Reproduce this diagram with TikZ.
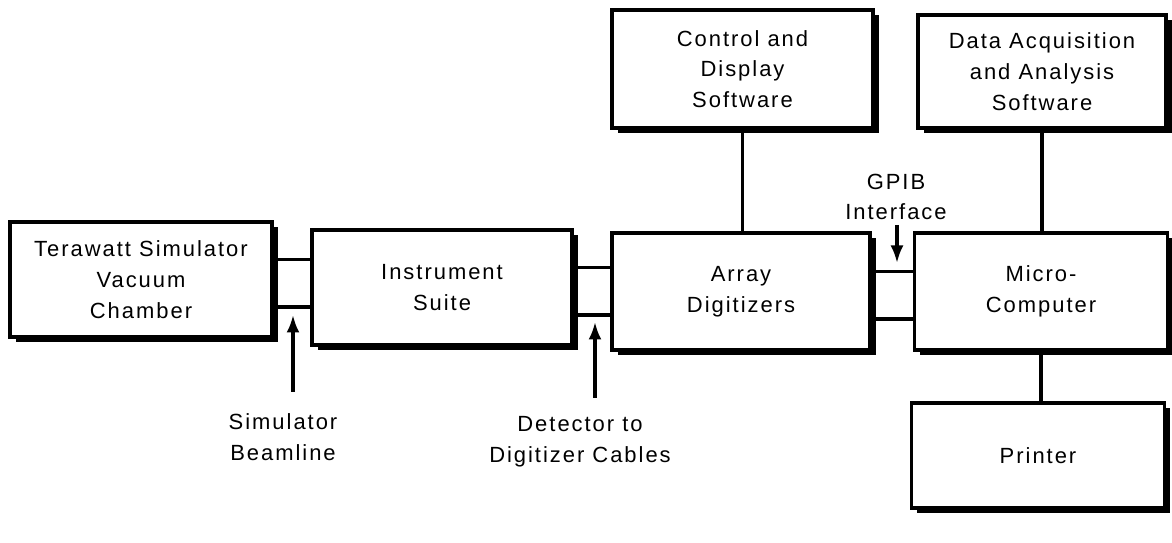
\documentclass[tikz,border=0pt]{standalone}
\usepackage{fontspec}
\setmainfont[LetterSpace=9]{Liberation Sans}
\usetikzlibrary{arrows.meta,positioning,shadows}
\tikzset{
  unit/.style={rectangle, draw=black, line width=2pt, fill=white, align=center,
               font=\fontsize{12.5}{17.5}\selectfont,
               drop shadow={shadow xshift=0.11cm, shadow yshift=-0.11cm, fill=black, opacity=1}},
  cable/.style={line width=1.8pt},
  ar/.style={-{Latex[length=3.5mm, width=2.6mm]}, line width=1.8pt},
  lbl/.style={align=center, font=\fontsize{12.5}{17.5}\selectfont},
}

\begin{document}
\begin{tikzpicture}[x=1cm,y=1cm]

\useasboundingbox (0,0) rectangle (23.44,10.86);

% ---- main chain ----
\node[unit, minimum width=5.24cm, minimum height=2.30cm] (term) at (2.82,5.27)
  {Terawatt Simulator\\Vacuum\\Chamber};
\node[unit, minimum width=5.20cm, minimum height=2.30cm] (inst) at (8.84,5.11)
  {Instrument\\Suite};
\node[unit, minimum width=5.16cm, minimum height=2.34cm] (array) at (14.82,5.03)
  {Array\\Digitizers};
\node[unit, minimum width=5.06cm, minimum height=2.34cm] (micro) at (20.82,5.03)
  {Micro-\\Computer};

% ---- software and printer ----
\node[unit, minimum width=5.22cm, minimum height=2.36cm] (ctrl) at (14.85,9.48)
  {Control and\\Display\\Software};
\node[unit, minimum width=4.96cm, minimum height=2.26cm] (daq) at (20.84,9.43)
  {Data Acquisition\\and Analysis\\Software};
\node[unit, minimum width=5.06cm, minimum height=2.10cm] (printer) at (20.76,1.75)
  {Printer};

% ---- paired cables between the boxes ----
\foreach \a/\b in {term/inst, inst/array, array/micro} {
  \draw[cable] ([yshift=4mm]\a.east) -- ([yshift=4mm]\a.east -| \b.west);
  \draw[cable] ([yshift=-5.5mm]\a.east) -- ([yshift=-5.5mm]\a.east -| \b.west);
}

\draw[cable] (ctrl.south) -- (ctrl.south |- array.north);
\draw[cable] (daq.south) -- (daq.south |- micro.north);
\draw[cable] (micro.south) -- (micro.south |- printer.north);

% ---- callouts ----
\node[lbl] (simlbl) at (5.66,2.12) {Simulator\\Beamline};
\node[lbl] (detlbl) at (11.6,2.02) {Detector to\\Digitizer Cables};
\node[lbl] (gpiblbl) at (17.92,6.92) {GPIB\\Interface};

\coordinate (simtail) at (5.86,3.02);
\coordinate (simtip) at (5.86,4.56);
\coordinate (dettail) at (11.9,2.90);
\coordinate (dettip) at (11.9,4.42);
\coordinate (gpibtail) at (17.94,6.36);
\coordinate (gpibtip) at (17.94,5.60);

\draw[ar] (simtail) -- (simtip);
\draw[ar] (dettail) -- (dettip);
\draw[ar] (gpibtail) -- (gpibtip);

\end{tikzpicture}
\end{document}
